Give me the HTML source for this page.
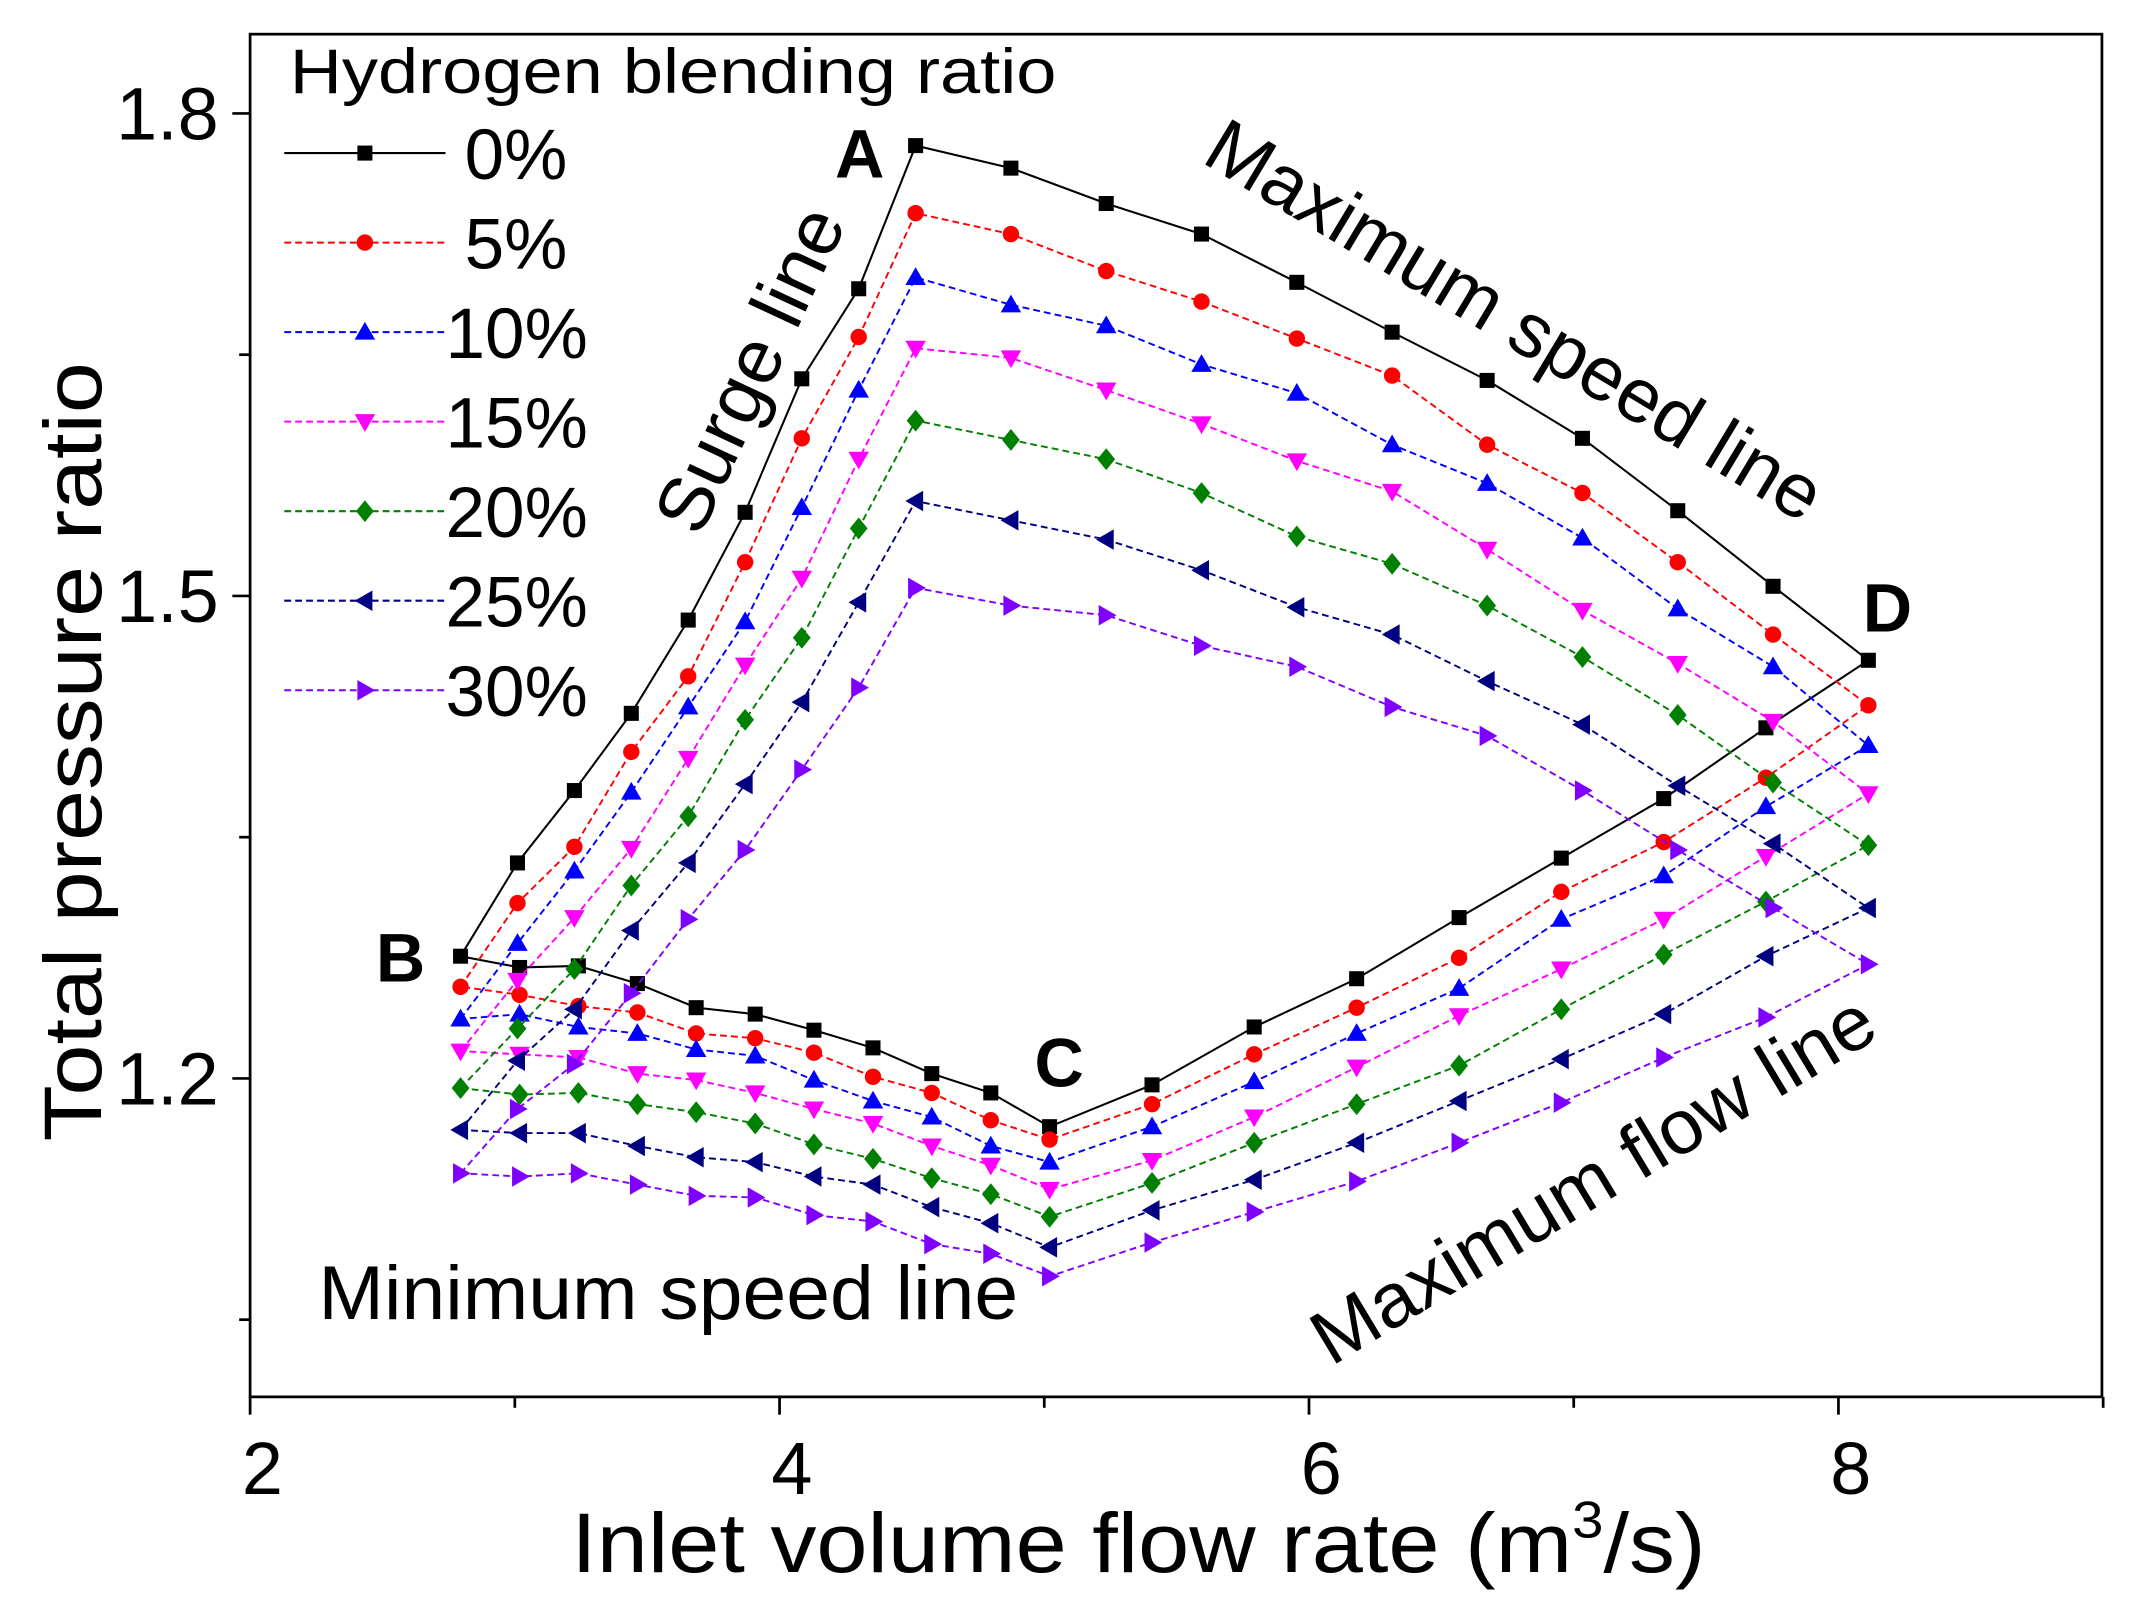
<!DOCTYPE html>
<html><head><meta charset="utf-8"><style>
html,body{margin:0;padding:0;background:#fff;}
svg{display:block;}
text{font-family:"Liberation Sans",Arial,sans-serif;fill:#000;}
</style></head><body>
<svg id="chart" width="2132" height="1606" viewBox="0 0 1560 1175" preserveAspectRatio="none" xmlns="http://www.w3.org/2000/svg">
<rect x="183" y="25" width="1355" height="997" fill="none" stroke="#000" stroke-width="2"/>
<g id="axes"></g>
<g id="series"></g>
<g id="legend"></g>
<text transform="translate(74,550) rotate(-90)" text-anchor="middle" font-size="60" textLength="570" lengthAdjust="spacingAndGlyphs">Total pressure ratio</text>
<text x="418" y="1150" font-size="62" textLength="830" lengthAdjust="spacingAndGlyphs">Inlet volume flow rate (m<tspan font-size="38" dy="-25">3</tspan><tspan dy="25">/s)</tspan></text>
<text x="611" y="130" font-size="50" font-weight="bold">A</text>
<text x="275" y="718" font-size="50" font-weight="bold">B</text>
<text x="757" y="795" font-size="50" font-weight="bold">C</text>
<text x="1363" y="462" font-size="50" font-weight="bold">D</text>
<text transform="translate(512,394) rotate(-65)" font-size="56" textLength="255" lengthAdjust="spacingAndGlyphs">Surge line</text>
<text transform="translate(878,118) rotate(31)" font-size="56" textLength="515" lengthAdjust="spacingAndGlyphs">Maximum speed line</text>
<text x="233" y="965" font-size="56" textLength="512" lengthAdjust="spacingAndGlyphs">Minimum speed line</text>
<text transform="translate(974,1000) rotate(-31)" font-size="56" textLength="470" lengthAdjust="spacingAndGlyphs">Maximum flow line</text>
</svg>
<script>
const seriesNames = ["0%", "5%", "10%", "15%", "20%", "25%", "30%"];
const xTicks = [2, 4, 6, 8];
const xMinorTicks = [3, 5, 7, 9];
const yTicks = [1.2, 1.5, 1.8];
const yMinorTicks = [1.05, 1.35, 1.65];
const surgeX = [2.795,3.010,3.225,3.440,3.655,3.870,4.084,4.299,4.514];
const maxSpeedX = [4.514,4.874,5.234,5.594,5.954,6.314,6.673,7.033,7.393,7.753,8.113];
const maxFlowX = [5.020,5.407,5.793,6.180,6.567,6.953,7.340,7.726,8.113];
const minSpeedX = [2.795,3.018,3.240,3.463,3.685,3.908,4.130,4.353,4.575,4.798,5.020];
const surgeY = [
 [1.276,1.334,1.379,1.427,1.485,1.552,1.635,1.691,1.780],
 [1.257,1.309,1.344,1.403,1.450,1.521,1.598,1.661,1.738],
 [1.237,1.284,1.329,1.378,1.431,1.484,1.555,1.628,1.698],
 [1.217,1.261,1.300,1.343,1.399,1.457,1.511,1.585,1.654],
 [1.194,1.231,1.268,1.320,1.363,1.423,1.474,1.542,1.609],
 [1.168,1.211,1.243,1.292,1.334,1.383,1.434,1.496,1.559],
 [1.141,1.181,1.209,1.253,1.299,1.342,1.392,1.443,1.505]
];
const maxSpeedY = [
 [1.780,1.766,1.744,1.725,1.695,1.664,1.634,1.598,1.553,1.506,1.460],
 [1.738,1.725,1.702,1.683,1.660,1.637,1.594,1.564,1.521,1.476,1.432],
 [1.698,1.681,1.668,1.644,1.626,1.594,1.570,1.536,1.492,1.456,1.407],
 [1.654,1.648,1.628,1.607,1.584,1.565,1.529,1.491,1.458,1.422,1.377],
 [1.609,1.597,1.585,1.564,1.537,1.520,1.494,1.462,1.426,1.384,1.345],
 [1.559,1.547,1.535,1.516,1.493,1.476,1.447,1.420,1.382,1.346,1.306],
 [1.505,1.494,1.488,1.469,1.456,1.431,1.413,1.379,1.342,1.306,1.271]
];
const maxFlowY = [
 [1.170,1.196,1.232,1.262,1.300,1.337,1.374,1.418,1.460],
 [1.162,1.184,1.215,1.244,1.275,1.316,1.347,1.387,1.432],
 [1.148,1.170,1.198,1.228,1.256,1.299,1.326,1.369,1.407],
 [1.131,1.149,1.176,1.207,1.239,1.268,1.299,1.338,1.377],
 [1.114,1.135,1.160,1.184,1.208,1.243,1.277,1.310,1.345],
 [1.095,1.118,1.137,1.160,1.186,1.212,1.240,1.276,1.306],
 [1.077,1.098,1.117,1.136,1.160,1.185,1.213,1.238,1.271]
];
const minSpeedY = [
 [1.276,1.269,1.270,1.259,1.244,1.240,1.230,1.219,1.203,1.191,1.170],
 [1.257,1.252,1.245,1.241,1.228,1.225,1.216,1.201,1.191,1.174,1.162],
 [1.237,1.240,1.232,1.228,1.218,1.214,1.199,1.186,1.176,1.158,1.148],
 [1.217,1.215,1.213,1.203,1.199,1.191,1.181,1.172,1.158,1.146,1.131],
 [1.194,1.190,1.191,1.184,1.179,1.172,1.159,1.150,1.138,1.128,1.114],
 [1.168,1.166,1.166,1.158,1.151,1.148,1.139,1.134,1.120,1.110,1.095],
 [1.141,1.139,1.141,1.134,1.127,1.126,1.115,1.111,1.097,1.091,1.077]
];
const colors = ["#000000","#ff0000","#0000ff","#ff00ff","#008000","#000080","#8000ff"];
const shapes = ["square","circle","up","down","diamond","left","right"];

const NS = "http://www.w3.org/2000/svg";
function sx(v){ return 183 + (v - 2) * 193.7; }
function sy(v){ return 83 + (1.8 - v) * 1176.7; }
function mk(tag, attrs, parent){
  const e = document.createElementNS(NS, tag);
  for (const k in attrs) e.setAttribute(k, attrs[k]);
  parent.appendChild(e);
  return e;
}
const axes = document.getElementById("axes");
xTicks.forEach(t => {
  const l = mk("line", {x1: sx(t), x2: sx(t), y1: 1022, y2: 1035, stroke: "#000", "stroke-width": 2}, axes);
  
  
  const tx = mk("text", {x: sx(t) + 9, y: 1093, "text-anchor": "middle", "font-size": 54}, axes);
  
  
  tx.textContent = String(t);
});
xMinorTicks.forEach(t => {
  const l = mk("line", {x1: sx(t), x2: sx(t), y1: 1022, y2: 1030, stroke: "#000", "stroke-width": 2}, axes);
  
  
});
yTicks.forEach(t => {
  const l = mk("line", {x1: 170, x2: 183, y1: sy(t), y2: sy(t), stroke: "#000", "stroke-width": 2}, axes);
  
  
  const tx = mk("text", {x: 160, y: sy(t) + 19, "text-anchor": "end", "font-size": 54}, axes);
  
  
  tx.textContent = t.toFixed(1);
});
yMinorTicks.forEach(t => {
  const l = mk("line", {x1: 175, x2: 183, y1: sy(t), y2: sy(t), stroke: "#000", "stroke-width": 2}, axes);
  
  
});

function marker(shape, x, y, color, parent){
  const r = 6.5;
  let e;
  if (shape === "square") e = mk("rect", {x: x - 5.5, y: y - 5.5, width: 11, height: 11, fill: color}, parent);
  else if (shape === "circle") e = mk("circle", {cx: x, cy: y, r: 6, fill: color}, parent);
  else {
    let pts;
    if (shape === "up") pts = [[x, y - r - 1], [x - r - 1, y + r - 1], [x + r + 1, y + r - 1]];
    else if (shape === "down") pts = [[x, y + r + 1], [x - r - 1, y - r + 1], [x + r + 1, y - r + 1]];
    else if (shape === "diamond") pts = [[x, y - r - 1.5], [x + r, y], [x, y + r + 1.5], [x - r, y]];
    else if (shape === "left") pts = [[x - r - 1, y], [x + r - 1, y - r - 1], [x + r - 1, y + r + 1]];
    else pts = [[x + r + 1, y], [x - r + 1, y - r - 1], [x - r + 1, y + r + 1]];
    e = mk("polygon", {points: pts.map(p => p.join(",")).join(" "), fill: color}, parent);
  }
  return e;
}

const seriesG = document.getElementById("series");
seriesNames.forEach((name, i) => {
  const g = mk("g", {}, seriesG);
  
  
  const pts = [];
  surgeX.forEach((x, j) => pts.push([x, surgeY[i][j]]));
  maxSpeedX.forEach((x, j) => { if (j > 0) pts.push([x, maxSpeedY[i][j]]); });
  for (let j = maxFlowX.length - 2; j >= 0; j--) pts.push([maxFlowX[j], maxFlowY[i][j]]);
  for (let j = minSpeedX.length - 2; j >= 1; j--) pts.push([minSpeedX[j], minSpeedY[i][j]]);
  pts.push(pts[0]);
  const d = pts.map((p, k) => (k ? "L" : "M") + sx(p[0]).toFixed(1) + " " + sy(p[1]).toFixed(1)).join(" ");
  const path = mk("path", {d: d, fill: "none", stroke: colors[i], "stroke-width": i ? 1.4 : 1.5, "stroke-dasharray": i ? "5 3" : "none"}, g);
  
  
  pts.slice(0, -1).forEach(p => {
    const m = marker(shapes[i], sx(p[0]), sy(p[1]), colors[i], g);
    
    
  });
});

const legend = document.getElementById("legend");
const lt = mk("text", {x: 212, y: 68, "font-size": 46, textLength: 561, lengthAdjust: "spacingAndGlyphs"}, legend);


lt.textContent = "Hydrogen blending ratio";
seriesNames.forEach((name, i) => {
  const cy = 112 + i * 65.5;
  const g = mk("g", {}, legend);
  
  
  mk("line", {x1: 208, x2: 326, y1: cy, y2: cy, stroke: colors[i], "stroke-width": 1.5, "stroke-dasharray": i ? "5 3" : "none"}, g);
  marker(shapes[i], 267, cy, colors[i], g);
  const t = mk("text", {x: name.length > 2 ? 326 : 340, y: cy + 19, "font-size": 52}, g);
  
  
  t.textContent = name;
});
</script>
</body></html>
